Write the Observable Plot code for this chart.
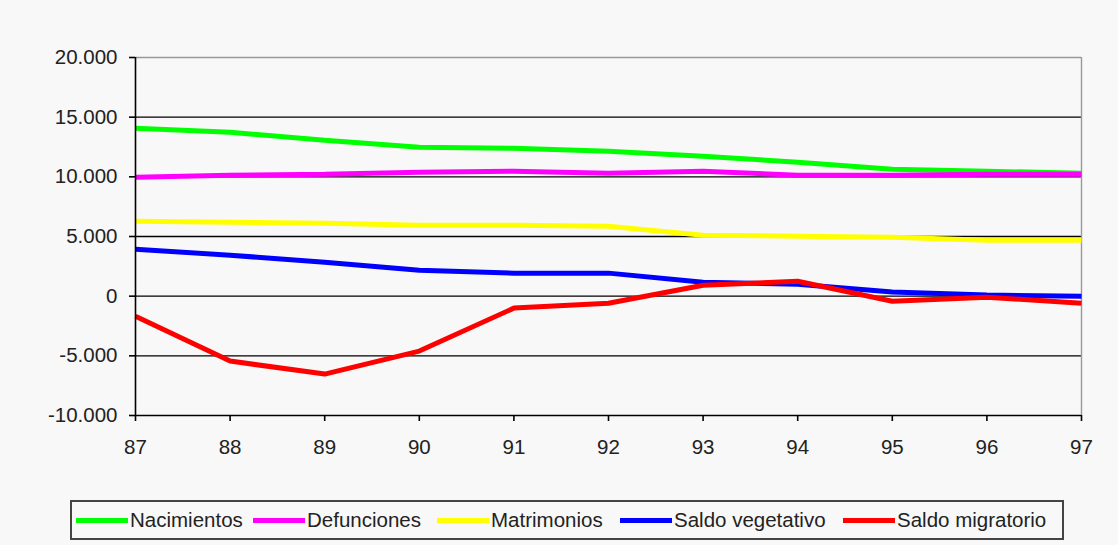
<!DOCTYPE html>
<html>
<head>
<meta charset="utf-8">
<script src="https://cdn.jsdelivr.net/npm/d3@7"></script>
<script src="https://cdn.jsdelivr.net/npm/@observablehq/plot@0.6"></script>
<style>
  html, body { margin: 0; padding: 0; background: #f8f8f8; }
  #wrap { position: relative; width: 1118px; height: 545px; font-family: "Liberation Sans", Arial, sans-serif; }
  #legend { position: absolute; left: 70px; top: 500px; width: 994px; height: 40px; border: 2px solid #444; box-sizing: border-box; font-size: 20.5px; color: #222; }
  .item { position: absolute; top: 0; height: 36px; display: flex; align-items: center; white-space: nowrap; }
  .sw { display: inline-block; width: 52px; height: 5px; margin-right: 2px; }
</style>
</head>
<body>
<div id="wrap"><div id="chart"></div><div id="legend"></div></div>
<script>
const years = [87, 88, 89, 90, 91, 92, 93, 94, 95, 96, 97];
const nacimientos = [14070, 13740, 13070, 12480, 12400, 12140, 11730, 11220, 10640, 10470, 10300];
const defunciones = [9970, 10130, 10220, 10390, 10470, 10300, 10470, 10130, 10130, 10220, 10220];
const matrimonios = [6280, 6200, 6110, 5950, 5950, 5860, 5110, 5030, 4940, 4690, 4690];
const saldoVegetativo = [3940, 3430, 2850, 2180, 1930, 1930, 1170, 1000, 340, 90, 0];
const saldoMigratorio = [-1680, -5440, -6530, -4600, -1000, -590, 920, 1250, -420, -90, -590];
const seriesNames = ["Nacimientos", "Defunciones", "Matrimonios", "Saldo vegetativo", "Saldo migratorio"];
const seriesColors = ["#00ff00", "#ff00ff", "#ffff00", "#0000ff", "#ff0000"];
const yTicks = [-10000, -5000, 0, 5000, 10000, 15000, 20000];
const gridValues = [-5000, 0, 5000, 10000, 15000];

const allSeries = [nacimientos, defunciones, matrimonios, saldoVegetativo, saldoMigratorio];
const data = [];
allSeries.forEach((vals, i) => vals.forEach((v, j) => data.push({serie: seriesNames[i], year: years[j], value: v})));

const loc = d3.formatLocale({decimal: ",", thousands: ".", grouping: [3], currency: ["", ""], minus: "-"});
const fmt = loc.format(",d");

const chart = Plot.plot({
  width: 1118,
  height: 490,
  marginLeft: 135,
  marginRight: 37,
  marginTop: 57,
  marginBottom: 75,
  style: {background: "transparent", fontFamily: "'Liberation Sans', Arial, sans-serif", fontSize: "20.5px", color: "#222"},
  x: {domain: [87, 97], label: null},
  y: {domain: [-10000, 20000], label: null},
  color: {domain: seriesNames, range: seriesColors},
  marks: [
    Plot.ruleY(gridValues, {stroke: "black", strokeWidth: 1.4}),
    Plot.ruleY([20000], {stroke: "#999", strokeWidth: 1.4}),
    Plot.ruleX([97], {stroke: "#999", strokeWidth: 1.4}),
    Plot.line(data, {x: "year", y: "value", z: "serie", stroke: "serie", strokeWidth: 5, strokeLinejoin: "miter", strokeLinecap: "butt"}),
    Plot.ruleX([87], {stroke: "black", strokeWidth: 1.6}),
    Plot.ruleY([-10000], {stroke: "black", strokeWidth: 1.6}),
    Plot.axisY({ticks: yTicks, tickFormat: fmt, tickSize: 6, tickPadding: 12, stroke: "black", strokeWidth: 1.6, label: null}),
    Plot.axisX({ticks: years, tickFormat: d => String(d), tickSize: 6, tickPadding: 18, stroke: "black", strokeWidth: 1.6, label: null})
  ]
});
document.getElementById("chart").appendChild(chart);

const legendOffsets = [4, 181, 365, 548, 771];
const legend = document.getElementById("legend");
seriesNames.forEach((n, i) => {
  const it = document.createElement("span");
  it.className = "item";
  it.style.left = legendOffsets[i] + "px";
  const sw = document.createElement("span");
  sw.className = "sw";
  sw.style.background = seriesColors[i];
  it.appendChild(sw);
  it.appendChild(document.createTextNode(n));
  legend.appendChild(it);
});
</script>
</body>
</html>
